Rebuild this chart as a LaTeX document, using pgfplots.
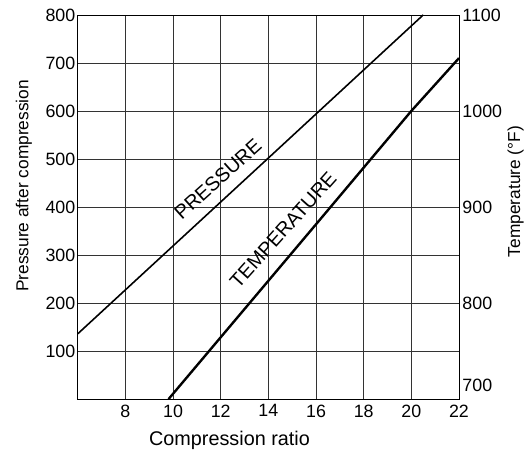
\documentclass[border=0pt]{standalone}
\usepackage{pgfplots}
\pgfplotsset{compat=1.18}
\usepackage{fontspec}
\setmainfont{Liberation Sans}
\begin{document}
\begin{tikzpicture}
\pgfplotsset{
  base/.style={
    scale only axis, width=383.7bp, height=386.7bp,
    xmin=6, xmax=22,
    major tick length=0pt,
    tick label style={font=\fontsize{18}{21}\selectfont},
    label style={font=\fontsize{17.5}{20}\selectfont},
    axis line style={line width=0.8bp},
  }
}
\begin{axis}[base, name=main,
  ymin=0, ymax=800,
  xtick={8,10,12,14,16,18,20,22},
  xticklabels={8,10,12,14,16,18,20,22},
  xticklabel style={yshift=-2bp},
  ytick={100,200,300,400,500,600,700,800},
  yticklabels={100,200,300,400,500,600,700,800},
  yticklabel style={xshift=1bp},
  grid=major, grid style={line width=0.6bp, black!80},
  xlabel={Compression ratio},
  xlabel style={font=\fontsize{20}{23}\selectfont, at={(axis description cs:0.398,-0.107)}, anchor=center},
  ylabel={Pressure after compression},
  ylabel style={at={(axis description cs:-0.1415,0.555)}, anchor=center},
]
\addplot[black, line width=1.6bp] coordinates {(6,136) (14,502) (20.5,800)};
\node[rotate=42, font=\fontsize{20}{23}\selectfont] at (axis cs:11.88,458) {PRESSURE};
\node[rotate=48, font=\fontsize{20}{23}\selectfont] at (axis cs:14.62,352) {TEMPERATURE};
\end{axis}
\begin{axis}[base,
  ymin=700, ymax=1100,
  hide x axis,
  axis y line*=right,
  ytick={700,800,900,1000,1100},
  yticklabels={\smash{\raisebox{7.5bp}{700}},800,900,1000,1100},
  ylabel={Temperature (°F)},
  ylabel style={at={(axis description cs:1.1486,0.54)}, anchor=center},
]
\addplot[black, line width=2.4bp] coordinates {(9.81,700) (16,882) (20,1000) (22,1055)};
\end{axis}
\path ([xshift=-78.3bp,yshift=-56.3bp]main.south west) rectangle ++(527bp,458bp);
\end{tikzpicture}
\end{document}
